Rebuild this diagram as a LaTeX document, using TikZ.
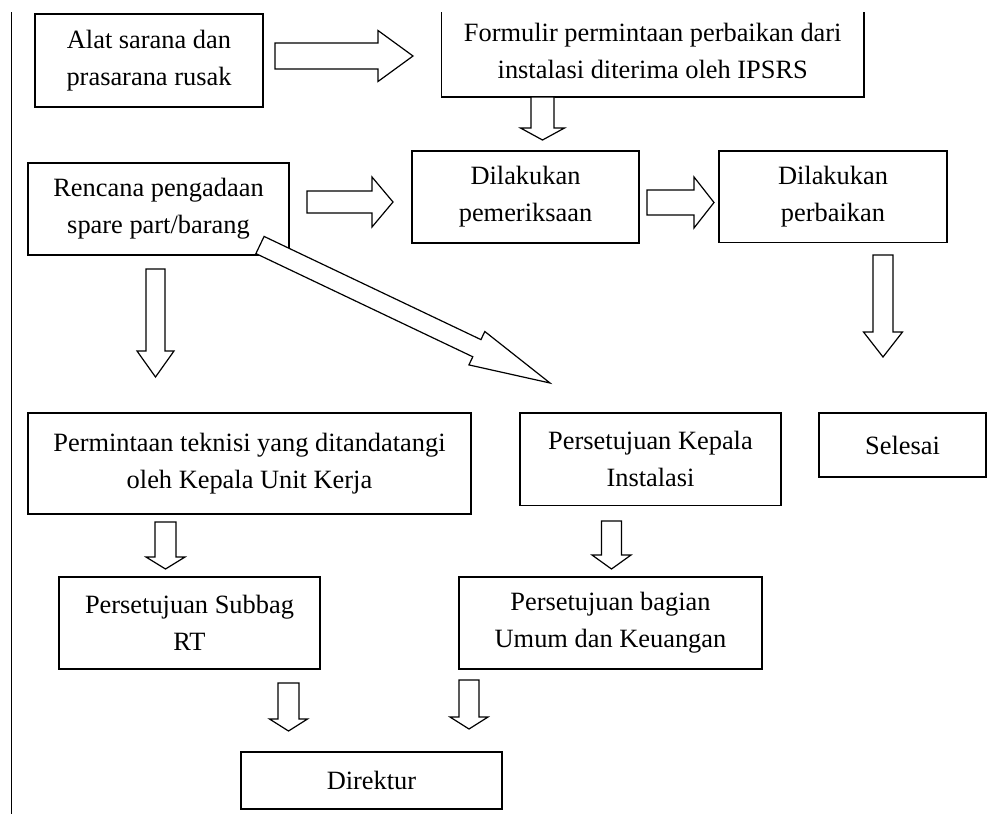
\documentclass[tikz,border=0pt]{standalone}
\usepackage{fontspec}
\setmainfont{Liberation Serif}
\usetikzlibrary{calc}
\tikzset{
  boxtext/.style={inner sep=0pt, align=center, font=\fontsize{26.4}{37}\selectfont},
  box/.style={boxtext, draw, line width=1.6pt},
  boxline/.style={line width=1.6pt},
  blk/.style={draw, line width=1.2pt, fill=white, line join=miter},
}
\newcommand\blockarrow[5]{%
  \path ($(#2)!#5pt!(#1)$) coordinate (#2-hb);
  \draw[blk] ($(#1)!#3pt!90:(#2)$) -- ($(#2-hb)!#3pt!90:(#2)$) -- ($(#2-hb)!#4pt!90:(#2)$) -- (#2)
    -- ($(#2-hb)!#4pt!-90:(#2)$) -- ($(#2-hb)!#3pt!-90:(#2)$) -- ($(#1)!#3pt!-90:(#2)$) -- cycle;
}
\begin{document}
\begin{tikzpicture}[x=1pt,y=-1pt]
\useasboundingbox[fill=white] (0,0) rectangle (987,814);
% left margin line
\coordinate (vtop) at (11.5,12);
\coordinate (vbot) at (11.5,814);
\draw[boxline] (vtop) -- (vbot);

% boxes
\node[box, minimum width=228pt, minimum height=93pt] (alat) at (149,60.5) {Alat sarana dan\\prasarana rusak};
\node[boxtext, minimum width=422.5pt, minimum height=93pt] (form) at (652.75,50.5) {Formulir permintaan perbaikan dari\\instalasi diterima oleh IPSRS};
\coordinate (ftop) at (0,12);
\draw[boxline] (form.south west |- ftop) -- (form.south west) -- (form.south east) -- (form.south east |- ftop);
\node[box, minimum width=261pt, minimum height=92pt] (renc) at (158.5,209) {Rencana pengadaan\\spare part/barang};
\node[box, minimum width=227pt, minimum height=92pt] (perik) at (525.5,197) {Dilakukan\\pemeriksaan};
\node[box, minimum width=228pt, minimum height=91.5pt] (perb) at (833,196.75) {Dilakukan\\perbaikan};
\node[box, minimum width=443pt, minimum height=101pt] (perm) at (249.5,463.5) {Permintaan teknisi yang ditandatangi\\oleh Kepala Unit Kerja};
\node[box, minimum width=261pt, minimum height=92.5pt] (kep) at (650.5,459.25) {Persetujuan Kepala\\Instalasi};
\node[box, minimum width=167pt, minimum height=64pt] (sel) at (902.5,445) {Selesai};
\node[box, minimum width=261pt, minimum height=92pt] (sub) at (189.5,623) {Persetujuan Subbag\\RT};
\node[box, minimum width=303pt, minimum height=92pt] (umum) at (610.5,623) {Persetujuan bagian\\Umum dan Keuangan};
\node[box, minimum width=261pt, minimum height=57pt] (dir) at (371.5,780.5) {Direktur};

% block arrows: tail, tip, shaft half width, head half width, head length
\coordinate (a1s) at (275,56);    \coordinate (a1e) at (413,56);
\coordinate (a2s) at (542.5,97);  \coordinate (a2e) at (542.5,140);
\coordinate (a3s) at (307,202);   \coordinate (a3e) at (393,202);
\coordinate (a4s) at (647,202.5); \coordinate (a4e) at (714,202.5);
\coordinate (a5s) at (883,255);   \coordinate (a5e) at (883,357);
\coordinate (a6s) at (155.5,269); \coordinate (a6e) at (155.5,377);
\coordinate (a7s) at (165.5,522); \coordinate (a7e) at (165.5,569);
\coordinate (a8s) at (611.5,521); \coordinate (a8e) at (611.5,569);
\coordinate (a9s) at (288.5,683); \coordinate (a9e) at (288.5,731);
\coordinate (a10s) at (469,680);  \coordinate (a10e) at (469,729);
\coordinate (a11s) at (260,245);  \coordinate (a11e) at (550,383);

\blockarrow{a1s}{a1e}{13}{25.5}{35}
\blockarrow{a2s}{a2e}{11.5}{22}{12}
\blockarrow{a3s}{a3e}{11}{25}{21}
\blockarrow{a4s}{a4e}{12.5}{25.5}{20}
\blockarrow{a5s}{a5e}{10}{19.5}{25}
\blockarrow{a6s}{a6e}{9.5}{18.5}{26}
\blockarrow{a7s}{a7e}{10.5}{19.5}{12}
\blockarrow{a8s}{a8e}{10}{19.5}{14}
\blockarrow{a9s}{a9e}{10.5}{19}{12}
\blockarrow{a10s}{a10e}{10}{19}{12}
\blockarrow{a11s}{a11e}{9.5}{18.5}{81}
\end{tikzpicture}
\end{document}
